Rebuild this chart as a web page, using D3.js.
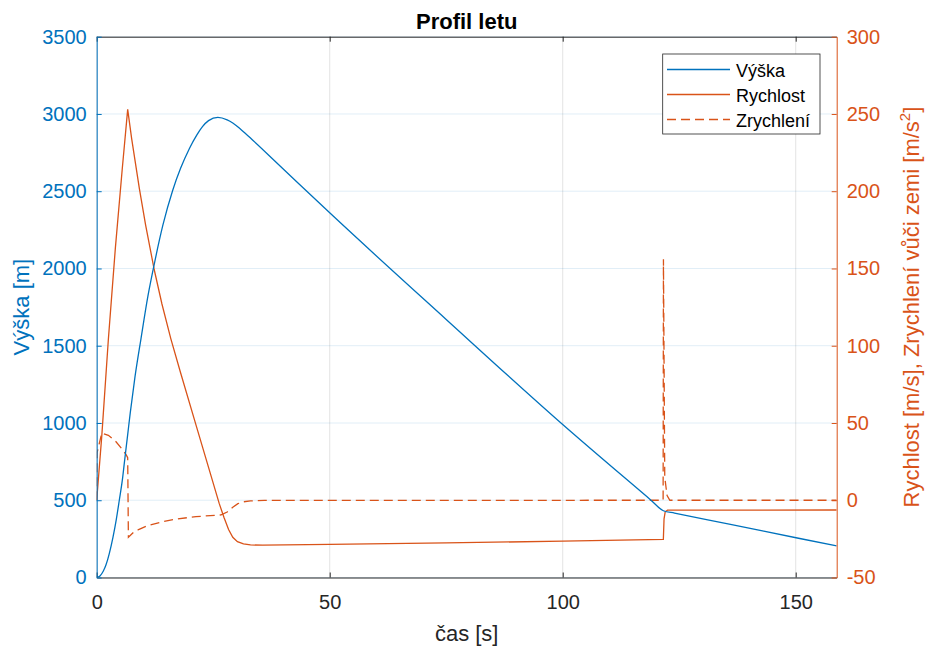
<!DOCTYPE html>
<html>
<head>
<meta charset="utf-8">
<script src="https://cdn.jsdelivr.net/npm/d3@7"></script>
<style>
  body { margin: 0; background: #fff; }
  svg { font-family: Arial, "Liberation Sans", Helvetica, sans-serif; }
</style>
</head>
<body>
<div id="chart"></div>
<script>
// data
// altitude (time s, height m)
var vyskaT = [0, 0.7, 1.4, 2, 2.7, 3.5, 4.2, 4.85, 5.5, 6, 6.65, 7.2, 8.2, 9.5, 11, 12.4, 14.2, 16.3, 18, 19.9,
  21.5, 22.7, 24, 26, 28, 29.2, 31, 33.5, 38.5, 50, 75, 100, 119, 121.6, 124, 136, 150.6, 158.8];
var vyskaV = [0, 10, 40, 82, 155, 262, 375, 500, 630, 760, 925, 1065, 1295, 1545, 1822, 2035, 2280, 2505, 2648, 2777,
  2865, 2918, 2957, 2978, 2962, 2942, 2898, 2830, 2688, 2360, 1670, 990, 499, 432, 417, 344, 254, 204];

// velocity (time s, m/s)
var rychlostT = [0, 1.1, 2.5, 4, 5.5, 6.65, 7.5, 9.14, 10.5, 12.36, 14, 15.9, 18, 21.3, 24, 26.3, 27.3, 28.3, 29.2,
  30.2, 31.5, 33, 35.6, 50, 75, 100, 121.6, 121.75, 122, 122.5, 158.8];
var rychlostV = [0, 42, 104, 163, 215, 253, 234, 202, 178, 149, 127, 104.6, 82.5, 48.8, 21.3, -2.2, -11, -19, -24,
  -26.8, -28.2, -28.9, -29.1, -28.6, -27.6, -26.5, -25.3, -12, -7.5, -6.4, -6.3];

// acceleration (time s, m/s^2)
var zrychleniT = [0, 0.1, 1.1, 2.5, 4.1, 5.6, 6.3, 6.65, 6.8, 8, 9.1, 11, 14.2, 17, 21.3, 26.7, 28, 29.2, 30.3,
  31.5, 33, 36, 121.55, 121.62, 121.9, 122.4, 123, 158.8];
var zrychleniV = [0, 31, 43.5, 42, 38, 32.5, 29.5, 27.5, -24, -20.5, -18.8, -16.3, -13.9, -12.2, -10.6, -9.5, -7.6, -4.5, -2.2,
  -1, -0.4, -0.1, 0, 156, 15, 3, 0, 0];

var xTicks = [0, 50, 100, 150];
var yLeftTicks = [0, 500, 1000, 1500, 2000, 2500, 3000, 3500];
var yRightTicks = [-50, 0, 50, 100, 150, 200, 250, 300];

var blue = "#0072BD";
var orange = "#D95319";
var dark = "#262626";

var width = 926;
var height = 648;
// bords de la zone de tracé
var pLeft = 96.7, pRight = 836.7, pTop = 36.7, pBottom = 577.5;

var svg = d3.select("#chart").append("svg")
  .attr("width", width)
  .attr("height", height);

// scales
var x = d3.scaleLinear().domain([0, 158.8]).range([pLeft, pRight]);
var yL = d3.scaleLinear().domain([0, 3500]).range([pBottom, pTop]);
var yR = d3.scaleLinear().domain([-50, 300]).range([pBottom, pTop]);

// grid
svg.append("g").selectAll("line").data(xTicks).enter().append("line")
  .attr("x1", function (d) { return x(d); })
  .attr("x2", function (d) { return x(d); })
  .attr("y1", pTop).attr("y2", pBottom)
  .attr("stroke", dark).attr("stroke-opacity", 0.13);
svg.append("g").selectAll("line").data(yLeftTicks).enter().append("line")
  .attr("x1", pLeft).attr("x2", pRight)
  .attr("y1", function (d) { return yL(d); })
  .attr("y2", function (d) { return yL(d); })
  .attr("stroke", blue).attr("stroke-opacity", 0.12);

// lines
svg.append("clipPath").attr("id", "clip").append("rect")
  .attr("x", pLeft).attr("y", pTop).attr("width", pRight - pLeft).attr("height", pBottom - pTop);

function pts(t, v) {
  return t.map(function (d, i) { return [d, v[i]]; });
}

var plot = svg.append("g").attr("clip-path", "url(#clip)");

plot.append("path")
  .datum(pts(zrychleniT, zrychleniV))
  .attr("fill", "none").attr("stroke", orange).attr("stroke-width", 1.3)
  .attr("stroke-dasharray", "9,5")
  .attr("d", d3.line().x(function (d) { return x(d[0]); }).y(function (d) { return yR(d[1]); }));

plot.append("path")
  .datum(pts(rychlostT, rychlostV))
  .attr("fill", "none").attr("stroke", orange).attr("stroke-width", 1.3)
  .attr("d", d3.line().x(function (d) { return x(d[0]); }).y(function (d) { return yR(d[1]); }));

plot.append("path")
  .datum(pts(vyskaT, vyskaV))
  .attr("fill", "none").attr("stroke", blue).attr("stroke-width", 1.3)
  .attr("d", d3.line().curve(d3.curveMonotoneX).x(function (d) { return x(d[0]); }).y(function (d) { return yL(d[1]); }));

// axes
function style(g, color) {
  g.attr("font-family", null);
  g.select(".domain").attr("stroke", color);
  g.selectAll(".tick line").attr("stroke", color);
  g.selectAll(".tick text").attr("fill", color).attr("font-size", 20);
}

var gB = svg.append("g").attr("transform", "translate(0," + pBottom + ")")
  .call(d3.axisBottom(x).tickValues(xTicks).tickSizeInner(-5).tickSizeOuter(0).tickPadding(17)
    .tickFormat(function (d) { return String(d); }));
style(gB, dark);

var gT = svg.append("g").attr("transform", "translate(0," + pTop + ")")
  .call(d3.axisTop(x).tickValues(xTicks).tickSizeInner(-5).tickSizeOuter(0).tickFormat(""));
style(gT, dark);

var gL = svg.append("g").attr("transform", "translate(" + pLeft + ",0)")
  .call(d3.axisLeft(yL).tickValues(yLeftTicks).tickSizeInner(-5).tickSizeOuter(0).tickPadding(10)
    .tickFormat(function (d) { return String(d); }));
style(gL, blue);

var gR = svg.append("g").attr("transform", "translate(" + pRight + ",0)")
  .call(d3.axisRight(yR).tickValues(yRightTicks).tickSizeInner(-5).tickSizeOuter(0).tickPadding(10)
    .tickFormat(function (d) { return String(d); }));
style(gR, orange);

// title and labels
svg.append("text")
  .attr("x", (pLeft + pRight) / 2).attr("y", 28.5)
  .attr("text-anchor", "middle").attr("font-size", 22).attr("font-weight", "bold")
  .attr("fill", "#000").text("Profil letu");

svg.append("text")
  .attr("x", (pLeft + pRight) / 2).attr("y", 641)
  .attr("text-anchor", "middle").attr("font-size", 22)
  .attr("fill", dark).text("čas [s]");

svg.append("text")
  .attr("transform", "translate(29," + (pTop + pBottom) / 2 + ") rotate(-90)")
  .attr("text-anchor", "middle").attr("font-size", 22)
  .attr("fill", blue).text("Výška [m]");

var rl = svg.append("text")
  .attr("transform", "translate(919," + (pTop + pBottom) / 2 + ") rotate(-90)")
  .attr("text-anchor", "middle").attr("font-size", 22)
  .attr("fill", orange);
rl.append("tspan").text("Rychlost [m/s], Zrychlení vůči zemi [m/s");
rl.append("tspan").attr("font-size", 15).attr("dy", -9).text("2");
rl.append("tspan").attr("dy", 9).text("]");

// legend
var lg = svg.append("g");
lg.append("rect")
  .attr("x", 662.7).attr("y", 54).attr("width", 157.3).attr("height", 80)
  .attr("fill", "#fff").attr("stroke", dark).attr("stroke-width", 0.8);

var legendItems = [
  { name: "Výška", color: blue, dash: null },
  { name: "Rychlost", color: orange, dash: null },
  { name: "Zrychlení", color: orange, dash: "9,5" }
];
legendItems.forEach(function (d, i) {
  var yy = 69.5 + i * 25;
  lg.append("line")
    .attr("x1", 667).attr("x2", 730).attr("y1", yy).attr("y2", yy)
    .attr("stroke", d.color).attr("stroke-width", 1.3)
    .attr("stroke-dasharray", d.dash);
  lg.append("text")
    .attr("x", 736).attr("y", yy + 7)
    .attr("font-size", 18).attr("fill", "#000").text(d.name);
});
</script>
</body>
</html>
